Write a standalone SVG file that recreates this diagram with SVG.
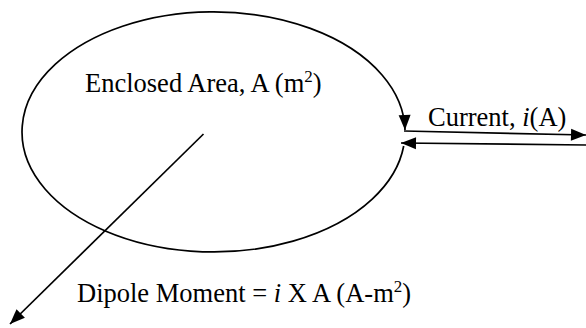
<svg xmlns="http://www.w3.org/2000/svg" width="586" height="328" viewBox="0 0 586 328">
<style>
.t{font-family:"Liberation Serif","Times New Roman",serif;font-size:26.5px;fill:#000}
.sup{font-size:17px}
.it{font-style:italic}
.ln{fill:none;stroke:#000;stroke-width:1.7}
</style>
<defs>
<marker id="ah" markerUnits="userSpaceOnUse" markerWidth="15" markerHeight="12" refX="15" refY="6" orient="auto" overflow="visible">
<path d="M0,0 L15,6 L0,12 z" fill="#000"/>
</marker>
</defs>
<rect width="586" height="328" fill="#fff"/>
<g id="loop">
<path class="ln" d="M403.7,146 A191.5,120 0 1 1 405,130" marker-end="url(#ah)"/>
<text class="t" x="85" y="92">Enclosed Area, A (m<tspan class="sup" dy="-10">2</tspan><tspan dy="10">)</tspan></text>
</g>
<g id="current-label">
<text class="t" x="428" y="126">Current, <tspan class="it">i</tspan>(A)</text>
</g>
<g id="dipole-label">
<text class="t" x="77" y="302">Dipole Moment = <tspan class="it">i</tspan> X A (A-m<tspan class="sup" dy="-10">2</tspan><tspan dy="10">)</tspan></text>
</g>
<g id="connectors">
<path class="ln" d="M404,131 L586,135" marker-end="url(#ah)"/>
<path class="ln" d="M586,145 L401,143" marker-end="url(#ah)"/>
<path class="ln" d="M203.5,134 L10,324" marker-end="url(#ah)"/>
</g>
</svg>
